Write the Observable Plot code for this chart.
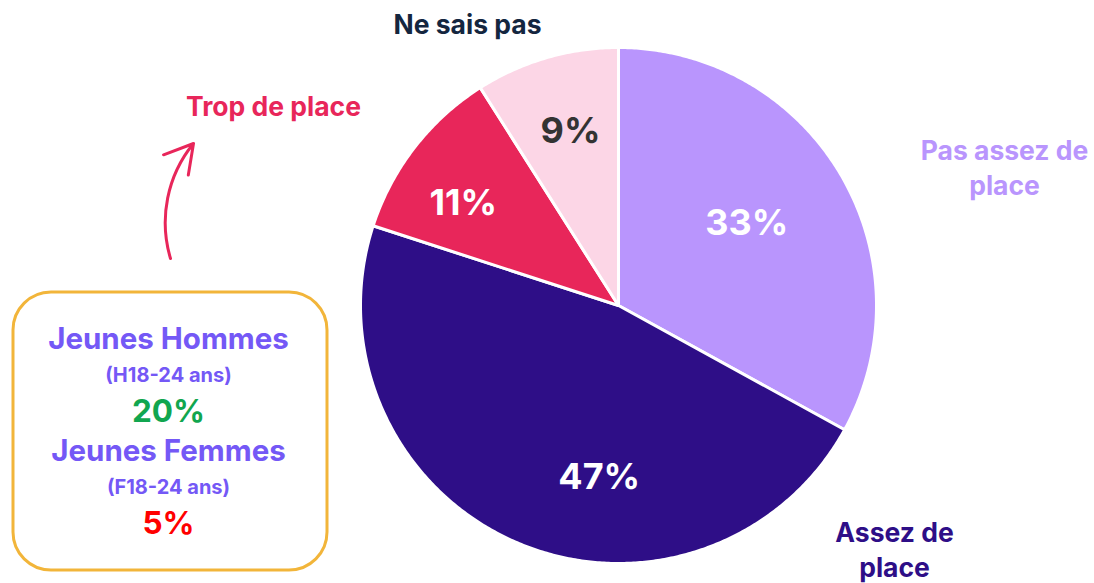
<!DOCTYPE html>
<html>
<head>
<meta charset="utf-8">
<script src="https://cdn.jsdelivr.net/npm/d3@7"></script>
<script src="https://cdn.jsdelivr.net/npm/@observablehq/plot@0.6"></script>
<style>
  html, body { margin: 0; padding: 0; background: #fff; }
  #chart svg { display: block; }
</style>
</head>
<body>
<div id="chart"></div>
<script>
// ---- Data ----
const categories = ["Pas assez de place", "Assez de place", "Trop de place", "Ne sais pas"];
const values = [33, 47, 11, 9];
const valueLabels = ["33%", "47%", "11%", "9%"];
const outerLabels = [["Pas assez de", "place"], ["Assez de", "place"], ["Trop de place"], ["Ne sais pas"]];
const boxLines = ["Jeunes Hommes", "(H18-24 ans)", "20%", "Jeunes Femmes", "(F18-24 ans)", "5%"];

// ---- Styles / layout ----
const sliceColors = ["#b995fd", "#2e0e87", "#e8265a", "#fcd6e6"];
const valueColors = ["#ffffff", "#ffffff", "#ffffff", "#333333"];
const outerColors = ["#b995fd", "#2e0e87", "#e8265a", "#14263f"];
const W = 1094, H = 583, CX = 618, CY = 305, R = 258;
const ux = px => (px - CX) / R;      // pixel -> unit coords
const uy = py => (CY - py) / R;

// slice geometry from values
const total = d3.sum(values);
let acc = 0;
const slicePts = [];
values.forEach((v, i) => {
  const a0 = acc / total * 2 * Math.PI;
  acc += v;
  const a1 = acc / total * 2 * Math.PI;
  slicePts.push({cat: categories[i], x: 0, y: 0});
  const n = Math.max(2, Math.ceil((a1 - a0) / (Math.PI / 360)));
  for (let k = 0; k <= n; k++) {
    const a = a0 + (a1 - a0) * k / n;
    slicePts.push({cat: categories[i], x: Math.sin(a), y: Math.cos(a)});
  }
});

// inner label placement: [radius, angle offset (deg)] relative to slice mid-angle
const innerPlace = [[0.59, -2], [0.67, -17], [0.72, -4.5], [0.70, 0.8]];
acc = 0;
const innerLabels = values.map((v, i) => {
  const mid = (acc + v / 2) / total * 360 + innerPlace[i][1];
  acc += v;
  const a = mid * Math.PI / 180;
  return {text: valueLabels[i], x: innerPlace[i][0] * Math.sin(a), y: innerPlace[i][0] * Math.cos(a), color: valueColors[i]};
});

// outer label positions (pixel layout)
const outerPos = [[1004, 151], [894, 533], [273, 107], [467, 25]];
const outerText = [];
outerLabels.forEach((lines, i) => lines.forEach((t, j) => {
  outerText.push({text: t, x: ux(outerPos[i][0]), y: uy(outerPos[i][1] + j * 35), color: outerColors[i]});
}));

// box text layout
const boxY = [339, 375, 411, 451, 487, 523];
const boxSize = [29.5, 20, 31.5, 29.5, 20, 31.5];
const boxColor = ["#7458f6", "#7458f6", "#11a64f", "#7458f6", "#7458f6", "#ff0000"];
const boxText = boxLines.map((t, i) => ({text: t, x: ux(168), y: uy(boxY[i]), size: boxSize[i], color: boxColor[i]}));

const chart = Plot.plot({
  width: W, height: H,
  margin: 0,
  x: {domain: [ux(0), ux(W)], range: [0, W], axis: null},
  y: {domain: [uy(H), uy(0)], range: [H, 0], axis: null},
  color: {domain: categories, range: sliceColors},
  style: {fontFamily: "Inter, 'Open Sans', sans-serif", background: "#fff"},
  marks: [
    Plot.line(slicePts, {x: "x", y: "y", z: "cat", fill: "cat", stroke: "#fff", strokeWidth: 3, strokeLinejoin: "round", curve: "linear-closed"}),
    Plot.text(innerLabels, {x: "x", y: "y", text: "text", fill: d => d.color, fontSize: 36, fontWeight: 700}),
    Plot.text(outerText, {x: "x", y: "y", text: "text", fill: d => d.color, fontSize: 26.5, fontWeight: 700}),
    Plot.rect([{}], {x1: ux(13), x2: ux(327), y1: uy(292), y2: uy(570), rx: 38, fill: "#fff", stroke: "#f2b53a", strokeWidth: 3}),
    Plot.text(boxText, {x: "x", y: "y", text: "text", fill: d => d.color, fontSize: d => d.size, fontWeight: 700}),
    Plot.arrow([{}], {x1: ux(170), y1: uy(258), x2: ux(193), y2: uy(143), bend: 28, stroke: "#e8265a", strokeWidth: 3, headLength: 16})
  ]
});
document.getElementById("chart").appendChild(chart);
</script>
</body>
</html>
